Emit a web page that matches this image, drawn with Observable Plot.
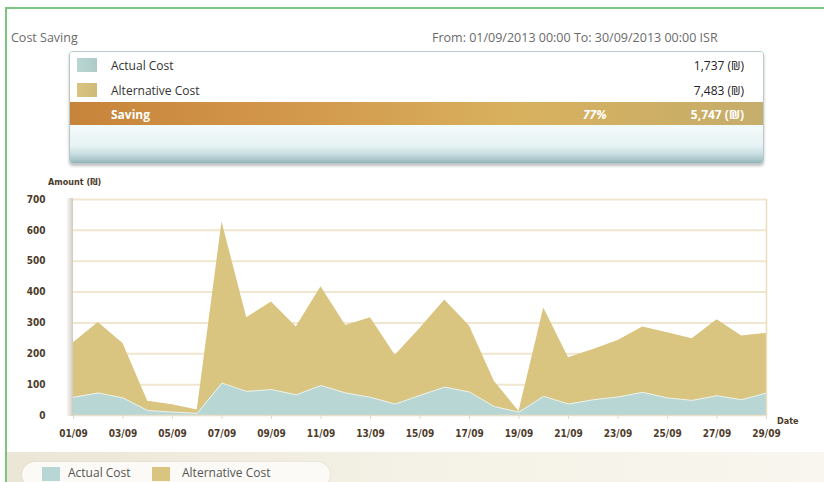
<!DOCTYPE html>
<html><head><meta charset="utf-8">
<script src="https://cdn.jsdelivr.net/npm/d3@7"></script>
<script src="https://cdn.jsdelivr.net/npm/@observablehq/plot@0.6"></script>
<style>
html,body{margin:0;overflow:hidden}
body{width:824px;height:482px;background:#fff;position:relative;font-family:"Open Sans",sans-serif}
.abs{position:absolute}
#frameT{left:5px;top:7px;width:819px;height:2px;background:#7cc47f}
#frameL{left:5px;top:7px;width:2px;height:475px;background:#7cc47f}
.hdr{font-size:12.5px;color:#6a6a6a;top:29px;white-space:nowrap}
#box{left:69px;top:51px;width:693px;height:111px;border:1px solid #b9c9cc;border-radius:4px;box-shadow:0 2px 3px rgba(0,0,0,0.25);overflow:hidden;background:#fff}
.row{position:absolute;left:0;width:693px;font-size:12px;color:#333}
.row span{position:absolute;top:50%;transform:translateY(-50%);white-space:nowrap}
.sw{position:absolute;width:20px;height:14px;top:50%;transform:translateY(-50%)}
.blab{font-family:"DejaVu Sans Condensed","DejaVu Sans",sans-serif;font-stretch:condensed;font-weight:bold;font-size:9px;color:#4d3b2a;white-space:nowrap}
#chart{left:0;top:170px}
#legendBand{left:7px;top:452px;width:817px;height:30px;background:linear-gradient(to right,#ebe6d6,#f4f1e6 50%,#f8f6ee)}
#pill{left:22px;top:462px;width:308px;height:26px;border-radius:13px;background:#fbfaf6;box-shadow:0 0 2px rgba(0,0,0,0.1)}
.lg{font-size:12px;line-height:15px;color:#555;top:465px;white-space:nowrap}
</style></head><body>
<div id="frameT" class="abs"></div>
<div id="frameL" class="abs"></div>
<div id="hdrL" class="abs hdr" style="left:11px"></div>
<div id="hdrR" class="abs hdr" style="left:432px"></div>
<div id="box" class="abs"></div>
<div id="yLabel" class="abs blab" style="left:48px;top:177px"></div>
<div class="abs" style="left:66px;top:198px;width:7px;height:218px;background:linear-gradient(to right,rgba(255,255,255,0),#cfcac0)"></div>
<div id="chart" class="abs"></div>
<div id="xLabel" class="abs blab" style="left:777px;top:416px"></div>
<div id="legendBand" class="abs"></div>
<div id="pill" class="abs"></div>
<div id="legend"></div>
<script>
// ---- data ----
const days = ["01/09","02/09","03/09","04/09","05/09","06/09","07/09","08/09","09/09","10/09","11/09","12/09","13/09","14/09","15/09","16/09","17/09","18/09","19/09","20/09","21/09","22/09","23/09","24/09","25/09","26/09","27/09","28/09","29/09"];
const actualCost = [59,73,57,16,11,7,105,78,84,67,97,73,59,37,65,92,76,29,11,62,37,51,60,75,57,49,64,51,73];
const alternativeCost = [236,301,233,46,35,18,627,317,368,287,417,292,317,195,282,374,290,111,13,348,187,214,243,287,268,249,310,258,266];
const yTicks = [0,100,200,300,400,500,600,700];
const xTickLabels = ["01/09","03/09","05/09","07/09","09/09","11/09","13/09","15/09","17/09","19/09","21/09","23/09","25/09","27/09","29/09"];
const seriesNames = ["Actual Cost","Alternative Cost"];
const seriesColors = ["#b8d6d3","#d9c480"];
const summaryLabels = ["Actual Cost","Alternative Cost","Saving"];
const summaryValues = ["1,737 (₪)","7,483 (₪)","5,747 (₪)"];
const savingPercent = "77%";
const titleText = "Cost Saving";
const rangeText = "From: 01/09/2013 00:00 To: 30/09/2013 00:00 ISR";
const yAxisLabel = "Amount (₪)";
const xAxisLabel = "Date";

// ---- header ----
document.getElementById("hdrL").textContent = titleText;
document.getElementById("hdrR").textContent = rangeText;
document.getElementById("yLabel").textContent = yAxisLabel;
document.getElementById("xLabel").textContent = xAxisLabel;

const box = document.getElementById("box");
const rows = [
  {top:0,h:26,bg:"#fff",border:"1px solid #d3dfe1"},
  {top:26,h:24,bg:"#fff",border:"none"},
  {top:50,h:23,bg:"linear-gradient(to right,#c6843a 0%,#d2964a 30%,#d8b15e 65%,#c5ad6b 100%)",border:"none"}
];
rows.forEach((r,i)=>{
  const d = document.createElement("div");
  d.className="row";
  d.style.top=r.top+"px"; d.style.height=r.h+"px"; d.style.background=r.bg; d.style.borderBottom=r.border;
  if(i<2){
    const sw=document.createElement("div"); sw.className="sw"; sw.style.left="7px";
    sw.style.background=`linear-gradient(to right, ${seriesColors[i]}, ${d3.color(seriesColors[i]).darker(0.15)})`;
    d.appendChild(sw);
  }
  const lab=document.createElement("span"); lab.textContent=summaryLabels[i]; lab.style.left="41px";
  const val=document.createElement("span"); val.textContent=summaryValues[i]; val.style.right="19px";
  if(i===2){
    lab.style.color="#fff"; lab.style.fontWeight="bold"; val.style.color="#fff"; val.style.fontWeight="bold";
    const pc=document.createElement("span"); pc.textContent=savingPercent; pc.style.left="513px"; pc.style.color="#fff"; pc.style.fontWeight="bold"; pc.style.fontStyle="italic";
    d.appendChild(pc);
  } else { val.style.color="#222"; }
  d.appendChild(lab); d.appendChild(val);
  box.appendChild(d);
});
const foot=document.createElement("div");
foot.style.cssText="position:absolute;left:0;top:73px;width:693px;height:38px;background:linear-gradient(to bottom,#f4fafa 0%,#e6f2f3 55%,#c9dfe1 75%,#a9c5c9 92%,#8fb0b5 100%)";
box.appendChild(foot);

// ---- chart ----
const parse = s => new Date(Date.UTC(2013, +s.slice(3,5)-1, +s.slice(0,2)));
const data = days.map((d,i)=>({date:parse(d), actual:actualCost[i], alternative:alternativeCost[i]}));
const dom = [data[0].date, data[data.length-1].date];
const font = '"DejaVu Sans Condensed","DejaVu Sans",sans-serif';

const chart = Plot.plot({
  width:824, height:285,
  marginTop:29, marginBottom:40, marginLeft:73, marginRight:58,
  x:{type:"utc", domain:dom},
  y:{domain:[0,700]},
  style:{fontFamily:font, fontSize:"10px", fontWeight:"bold", color:"#4d3b2a", background:"transparent", fontStretch:"condensed"},
  marks:[
    Plot.ruleY(yTicks.filter(v=>v>0), {stroke:"#f1e6cf", strokeWidth:2}),
    Plot.areaY(data,{x:"date", y:"alternative", fill:seriesColors[1]}),
    Plot.areaY(data,{x:"date", y:"actual", fill:seriesColors[0]}),
    Plot.lineY(data,{x:"date", y:"actual", stroke:"#f2f1e3", strokeWidth:1}),
    Plot.ruleX([dom[1]],{stroke:"#e9ddbd", strokeWidth:1.5}),
    Plot.ruleY([0],{stroke:"#e9e0c9", strokeWidth:1.5}),
    Plot.axisX({ticks:xTickLabels.map(parse), tickFormat:d3.utcFormat("%d/%m"), tickSize:4, tickPadding:10, stroke:"#e4dac4", label:null, fontSize:10}),
    Plot.axisY({ticks:yTicks, tickSize:0, tickPadding:28, label:null, fontSize:10})
  ]
});
document.getElementById("chart").appendChild(chart);

// ---- bottom legend ----
const lg = document.getElementById("legend");
[[42,68],[152,182]].forEach(([sx,tx],i)=>{
  const sw=document.createElement("div"); sw.className="abs";
  sw.style.cssText=`left:${sx}px;top:467px;width:18px;height:14px;background:${seriesColors[i]}`;
  lg.appendChild(sw);
  const t=document.createElement("div"); t.className="abs lg"; t.style.left=tx+"px"; t.textContent=seriesNames[i];
  lg.appendChild(t);
});
</script>
</body></html>
